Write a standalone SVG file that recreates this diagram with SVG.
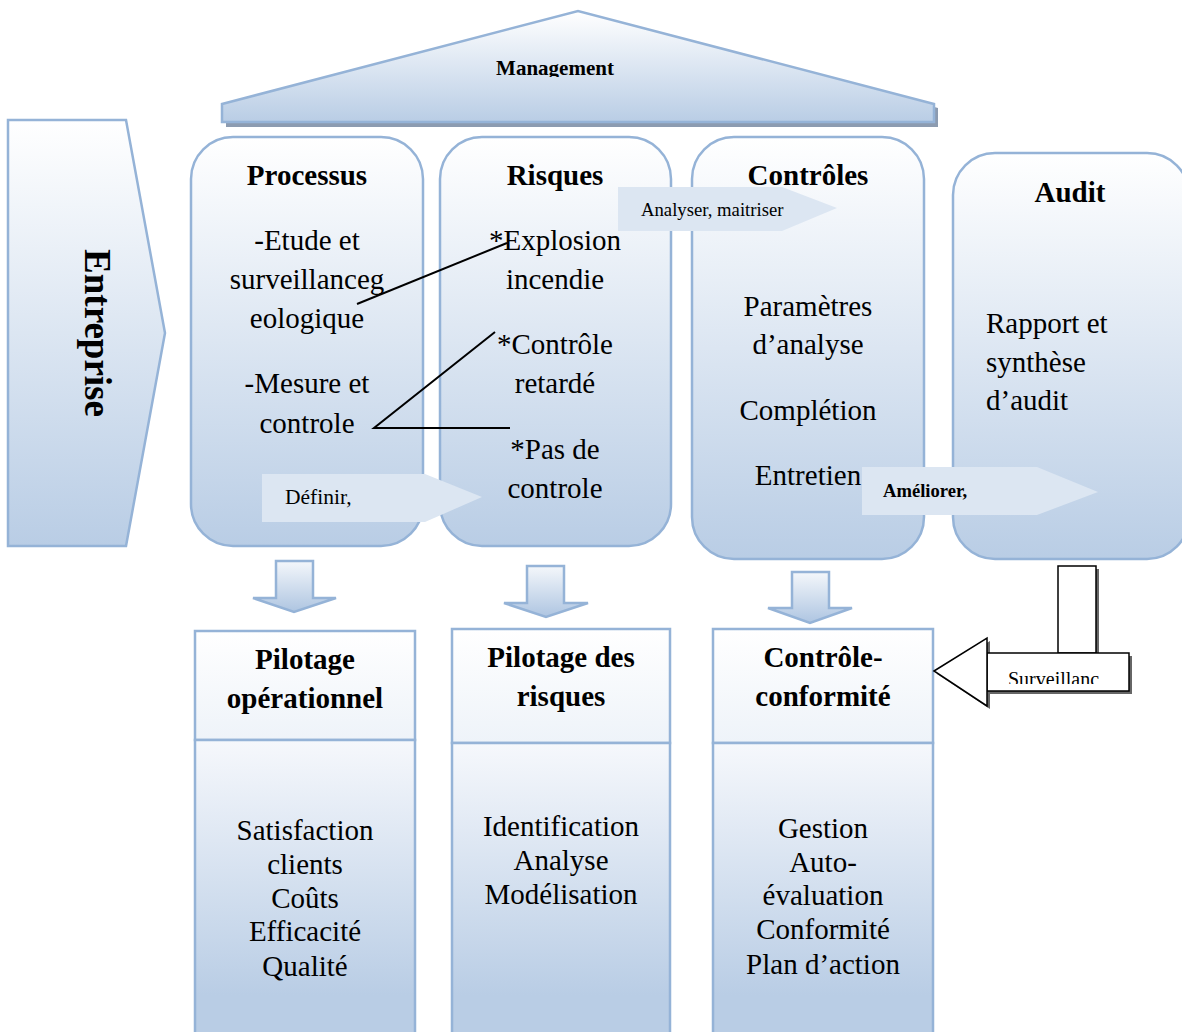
<svg xmlns="http://www.w3.org/2000/svg" width="1182" height="1032" viewBox="0 0 1182 1032">
<style>
.sh{stroke:#95b3d7;stroke-width:2.5}
.t{font-family:"Liberation Serif","Times New Roman",serif;fill:#000;text-anchor:middle}
.b{font-weight:bold}
.f28{font-size:29px}
.lbl{fill:#dce6f2;stroke:none}
.ln{stroke:#000;stroke-width:2;fill:none}
</style>
<defs>
<linearGradient id="g" x1="0" y1="0" x2="0" y2="1">
<stop offset="0" stop-color="#ffffff"/>
<stop offset="1" stop-color="#b9cde5"/>
</linearGradient>
<linearGradient id="gh" x1="0" y1="0" x2="0" y2="1">
<stop offset="0" stop-color="#ffffff"/>
<stop offset="1" stop-color="#eef3f9"/>
</linearGradient>
<linearGradient id="gb" x1="0" y1="0" x2="0" y2="1">
<stop offset="0" stop-color="#f6f8fc"/>
<stop offset="0.85" stop-color="#b9cde5"/>
<stop offset="1" stop-color="#b9cde5"/>
</linearGradient>
<linearGradient id="ga" x1="0" y1="0" x2="0" y2="1">
<stop offset="0" stop-color="#f4f7fb"/>
<stop offset="1" stop-color="#aec5e1"/>
</linearGradient>
<clipPath id="cm"><rect x="400" y="40" width="300" height="37"/></clipPath>
<clipPath id="cs"><rect x="990" y="655" width="137" height="29"/></clipPath>
</defs>

<g id="management">
<polygon points="226,108 582,15 938,108 938,127 226,127" fill="#8c9bb0"/>
<polygon points="222,104 578,11 934,104 934,122 222,122" fill="url(#g)" class="sh"/>
<text class="t b" x="555" y="75" font-size="21" clip-path="url(#cm)">Management</text>
</g>

<g id="entreprise">
<polygon points="8,120 126,120 165,333 126,546 8,546" fill="url(#g)" class="sh"/>
<text class="t b" font-size="37" transform="translate(85,333) rotate(90)">Entreprise</text>
</g>

<g id="processus">
<rect x="191" y="137" width="232" height="409" rx="42" fill="url(#g)" class="sh"/>
<text class="t b f28" x="307" y="185">Processus</text>
<text class="t f28" x="307" y="250">-Etude et</text>
<text class="t f28" x="307" y="289">surveillanceg</text>
<text class="t f28" x="307" y="328">eologique</text>
<text class="t f28" x="307" y="393">-Mesure et</text>
<text class="t f28" x="307" y="433">controle</text>
</g>

<g id="risques">
<rect x="440" y="137" width="231" height="409" rx="42" fill="url(#g)" class="sh"/>
<text class="t b f28" x="555" y="185">Risques</text>
<text class="t f28" x="555" y="250">*Explosion</text>
<text class="t f28" x="555" y="289">incendie</text>
<text class="t f28" x="555" y="354">*Contrôle</text>
<text class="t f28" x="555" y="393">retardé</text>
<text class="t f28" x="555" y="459">*Pas de</text>
<text class="t f28" x="555" y="498">controle</text>
</g>

<g id="controles">
<rect x="692" y="137" width="232" height="422" rx="42" fill="url(#g)" class="sh"/>
<text class="t b f28" x="808" y="185">Contrôles</text>
<text class="t f28" x="808" y="316">Paramètres</text>
<text class="t f28" x="808" y="354">d’analyse</text>
<text class="t f28" x="808" y="420">Complétion</text>
<text class="t f28" x="808" y="485">Entretien</text>
</g>

<g id="audit">
<rect x="953" y="153" width="236" height="406" rx="42" fill="url(#g)" class="sh"/>
<text class="t b f28" x="1070" y="202">Audit</text>
<text class="t f28" x="986" y="333" style="text-anchor:start">Rapport et</text>
<text class="t f28" x="986" y="372" style="text-anchor:start">synthèse</text>
<text class="t f28" x="986" y="410" style="text-anchor:start">d’audit</text>
</g>

<g id="pilotage-operationnel">
<rect x="195" y="631" width="220" height="109" fill="url(#gh)" class="sh"/>
<rect x="195" y="740" width="220" height="300" fill="url(#gb)" class="sh"/>
<text class="t b f28" x="305" y="669">Pilotage</text>
<text class="t b f28" x="305" y="708">opérationnel</text>
<text class="t f28" x="305" y="840">Satisfaction</text>
<text class="t f28" x="305" y="874">clients</text>
<text class="t f28" x="305" y="908">Coûts</text>
<text class="t f28" x="305" y="941">Efficacité</text>
<text class="t f28" x="305" y="976">Qualité</text>
</g>

<g id="pilotage-risques">
<rect x="452" y="629" width="218" height="114" fill="url(#gh)" class="sh"/>
<rect x="452" y="743" width="218" height="297" fill="url(#gb)" class="sh"/>
<text class="t b f28" x="561" y="667">Pilotage des</text>
<text class="t b f28" x="561" y="706">risques</text>
<text class="t f28" x="561" y="836">Identification</text>
<text class="t f28" x="561" y="870">Analyse</text>
<text class="t f28" x="561" y="904">Modélisation</text>
</g>

<g id="controle-conformite">
<rect x="713" y="629" width="220" height="114" fill="url(#gh)" class="sh"/>
<rect x="713" y="743" width="220" height="297" fill="url(#gb)" class="sh"/>
<text class="t b f28" x="823" y="667">Contrôle-</text>
<text class="t b f28" x="823" y="706">conformité</text>
<text class="t f28" x="823" y="838">Gestion</text>
<text class="t f28" x="823" y="872">Auto-</text>
<text class="t f28" x="823" y="905">évaluation</text>
<text class="t f28" x="823" y="939">Conformité</text>
<text class="t f28" x="823" y="974">Plan d’action</text>
</g>

<g id="connectors">
<line class="ln" x1="357" y1="304" x2="507" y2="243"/>
<polyline class="ln" points="495,332 374,428 510,428"/>

<polygon points="276,561 313,561 313,598 336,598 294,612 253,598 276,598" fill="url(#ga)" class="sh"/>
<polygon points="527,566 564,566 564,603 588,603 546,617 504,603 527,603" fill="url(#ga)" class="sh"/>
<polygon points="792,572 829,572 829,608 852,608 810,623 768,608 792,608" fill="url(#ga)" class="sh"/>

<g id="definir">
<polygon class="lbl" points="262,474 425,474 482,497 425,522 262,522"/>
<text class="t" x="285" y="504" font-size="21.5" style="text-anchor:start">Définir,</text>
</g>
<g id="analyser">
<polygon class="lbl" points="618,187 782,187 837,208 782,231 618,231"/>
<text class="t" x="641" y="216" font-size="18.7" style="text-anchor:start">Analyser, maitriser</text>
</g>
<g id="ameliorer">
<polygon class="lbl" points="862,467 1037,467 1098,492 1037,515 862,515"/>
<text class="t b" x="883" y="497" font-size="18.6" style="text-anchor:start">Améliorer,</text>
</g>

<g id="surveillance">
<rect x="1061" y="569" width="38" height="87" fill="#666"/>
<rect x="990" y="656" width="142" height="38" fill="#666"/>
<polygon points="937,674 990,641 990,709" fill="#666"/>
<rect x="1058" y="566" width="38" height="87" fill="#fff" stroke="#000" stroke-width="1.5"/>
<rect x="987" y="653" width="142" height="38" fill="#fff" stroke="#000" stroke-width="1.5"/>
<polygon points="934,671 987,638 987,706" fill="#fff" stroke="#000" stroke-width="1.5"/>
<text class="t" x="1008" y="686" font-size="20" style="text-anchor:start" clip-path="url(#cs)">Surveillanc</text>
</g>
</g>
</svg>
